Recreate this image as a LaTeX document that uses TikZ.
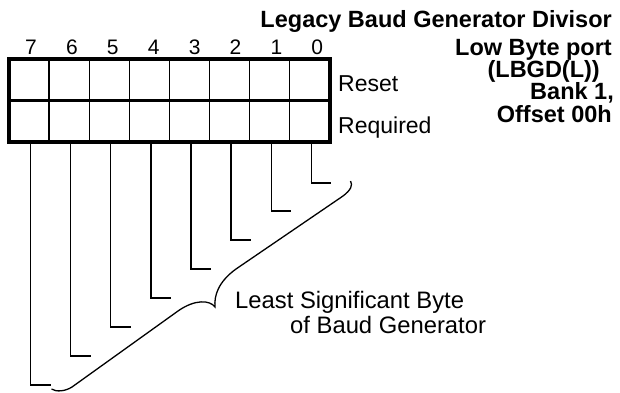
\documentclass[tikz,border=0pt]{standalone}
\usepackage{fontspec}
\setmainfont{Liberation Sans}
\begin{document}
\begin{tikzpicture}[x=1pt,y=-1pt,
  thickline/.style={line width=3.5pt},
  cell/.style={draw, line width=1.4pt, minimum width=40.1pt, minimum height=41.6pt, inner sep=0pt, outer sep=0pt},
  bitnum/.style={font=\fontsize{21}{21}\selectfont, inner sep=0pt},
  lbl/.style={font=\fontsize{23}{23}\selectfont, inner sep=0pt},
  blbl/.style={font=\fontsize{23.8}{23.8}\selectfont, inner sep=0pt},
  ttl/.style={font=\bfseries\fontsize{23.5}{23.5}\selectfont, inner sep=0pt, anchor=base east},
  leader/.style={line width=1.3pt}
]
\useasboundingbox (0,0) rectangle (620,392);
% cells
\foreach \i in {0,...,7} {
  \node[cell] (t\i) at ({9+40.1*(7-\i)+20.05}, 79.6) {};
  \node[cell] (b\i) at ({9+40.1*(7-\i)+20.05}, 121.2) {};
}
\draw[thickline] (t7.south west) -- (t0.south east);
\draw[thickline] (t7.north west) rectangle (b0.south east);
% bit numbers
\foreach \i in {0,...,7} {
  \node[bitnum] (n\i) at ({31+40.9*(7-\i)}, 47) {\i};
}
% row labels
\node[lbl, anchor=base west] (reset) at (338, 91) {Reset};
\node[lbl, anchor=base west] (req) at (338, 133) {Required};
% title
\node[ttl] (title) at (612, 27.5) {Legacy Baud Generator Divisor};
\node[ttl] (l1) at (612, 55) {Low Byte port};
\node[ttl] (l2) at (600, 77.5) {(LBGD(L))};
\node[ttl] (l3) at (614, 99) {Bank 1,};
\node[ttl] (l4) at (612, 122) {Offset 00h};
% leader ends
\foreach \i/\y in {7/385,6/356,5/327,4/298,3/269,2/240,1/211,0/183} {
  \coordinate (e\i) at ({9+40.1*(7-\i)+20.05+21.5}, \y);
  \draw[leader] ([xshift=1.5pt]b\i.south) |- (e\i);
}
% brace
\draw[leader] (51.5,389) .. controls (56,392) and (65,391.5) .. (72,387) -- (178,311)
  .. controls (195,299) and (210,300) .. (215,307)
  .. controls (214,296) and (218,282) .. (236,269) -- (343,196)
  .. controls (351,190) and (353,185) .. (350.5,181);
% brace label
\node[blbl, anchor=base west] (lsb1) at (235, 308) {Least Significant Byte};
\node[blbl, anchor=base west] (lsb2) at (290, 333) {of Baud Generator};
\end{tikzpicture}
\end{document}
